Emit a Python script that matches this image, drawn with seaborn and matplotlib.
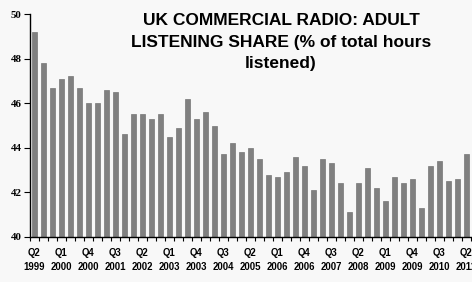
import numpy as np
import pandas as pd
import matplotlib
matplotlib.use("Agg")
import matplotlib.pyplot as plt
import seaborn as sns

quarters = [
    "Q2 1999", "Q3 1999", "Q4 1999", "Q1 2000", "Q2 2000", "Q3 2000", "Q4 2000",
    "Q1 2001", "Q2 2001", "Q3 2001", "Q4 2001", "Q1 2002", "Q2 2002", "Q3 2002",
    "Q4 2002", "Q1 2003", "Q2 2003", "Q3 2003", "Q4 2003", "Q1 2004", "Q2 2004",
    "Q3 2004", "Q4 2004", "Q1 2005", "Q2 2005", "Q3 2005", "Q4 2005", "Q1 2006",
    "Q2 2006", "Q3 2006", "Q4 2006", "Q1 2007", "Q2 2007", "Q3 2007", "Q4 2007",
    "Q1 2008", "Q2 2008", "Q3 2008", "Q4 2008", "Q1 2009", "Q2 2009", "Q3 2009",
    "Q4 2009", "Q1 2010", "Q2 2010", "Q3 2010", "Q4 2010", "Q1 2011", "Q2 2011",
]
share = [
    49.2, 47.8, 46.7, 47.1, 47.2, 46.7, 46.0, 46.0, 46.6, 46.5,
    44.6, 45.5, 45.5, 45.3, 45.5, 44.5, 44.9, 46.2, 45.3, 45.6,
    45.0, 43.7, 44.2, 43.8, 44.0, 43.5, 42.8, 42.7, 42.9, 43.6,
    43.2, 42.1, 43.5, 43.3, 42.4, 41.1, 42.4, 43.1, 42.2, 41.6,
    42.7, 42.4, 42.6, 41.3, 43.2, 43.4, 42.5, 42.6, 43.7,
]
title = "UK COMMERCIAL RADIO: ADULT\nLISTENING SHARE (% of total hours\nlistened)"
y_ticks = [40, 42, 44, 46, 48, 50]

df = pd.DataFrame({"quarter": quarters, "share": share})

sns.set_style("white")
plt.rcParams["text.color"] = "black"
plt.rcParams["xtick.color"] = "black"
plt.rcParams["ytick.color"] = "black"
bg = "#f8f8f8"
fig = plt.figure(figsize=(4.72, 2.82), dpi=100, facecolor=bg)
ax = fig.add_axes([29.8 / 472, 45 / 282, 441 / 472, 223 / 282])
ax.set_facecolor(bg)

sns.barplot(data=df, x="quarter", y="share", color="#808080", saturation=1,
            width=0.55, edgecolor="#777777", linewidth=0.5, ax=ax)

ax.set_ylim(40, 50)
ax.set_xlim(-0.5, len(quarters) - 0.5)
ax.set_yticks(y_ticks)
ax.set_yticklabels([str(v) for v in y_ticks], family="Liberation Serif",
                   fontweight="bold", fontsize=7.8, color="black")
major = list(range(0, len(quarters), 3))
ax.set_xticks(major)
ax.set_xticklabels([quarters[i].replace(" ", "\n") for i in major],
                   family="Liberation Sans", fontweight="bold", fontsize=6.9,
                   linespacing=1.45, color="black")
ax.set_xticks(np.arange(-0.5, len(quarters), 1), minor=True)
ax.tick_params(axis="x", which="major", length=0, pad=8)
ax.tick_params(axis="x", which="minor", length=3, width=0.8, direction="out",
               color="black", bottom=True)
ax.tick_params(axis="y", length=4, width=0.8, direction="out", color="black",
               left=True, pad=2)
ax.set_xlabel("")
ax.set_ylabel("")
for s in ["top", "right"]:
    ax.spines[s].set_visible(False)
for s in ["left", "bottom"]:
    ax.spines[s].set_color("black")
    ax.spines[s].set_linewidth(1.0)

fig.text(281 / 472, 1 - 13 / 282, title, ha="center", va="top",
         family="Liberation Sans", fontweight="bold", fontsize=12.5,
         linespacing=1.55, color="black")

fig.savefig("out.png", dpi=100, facecolor=bg)
